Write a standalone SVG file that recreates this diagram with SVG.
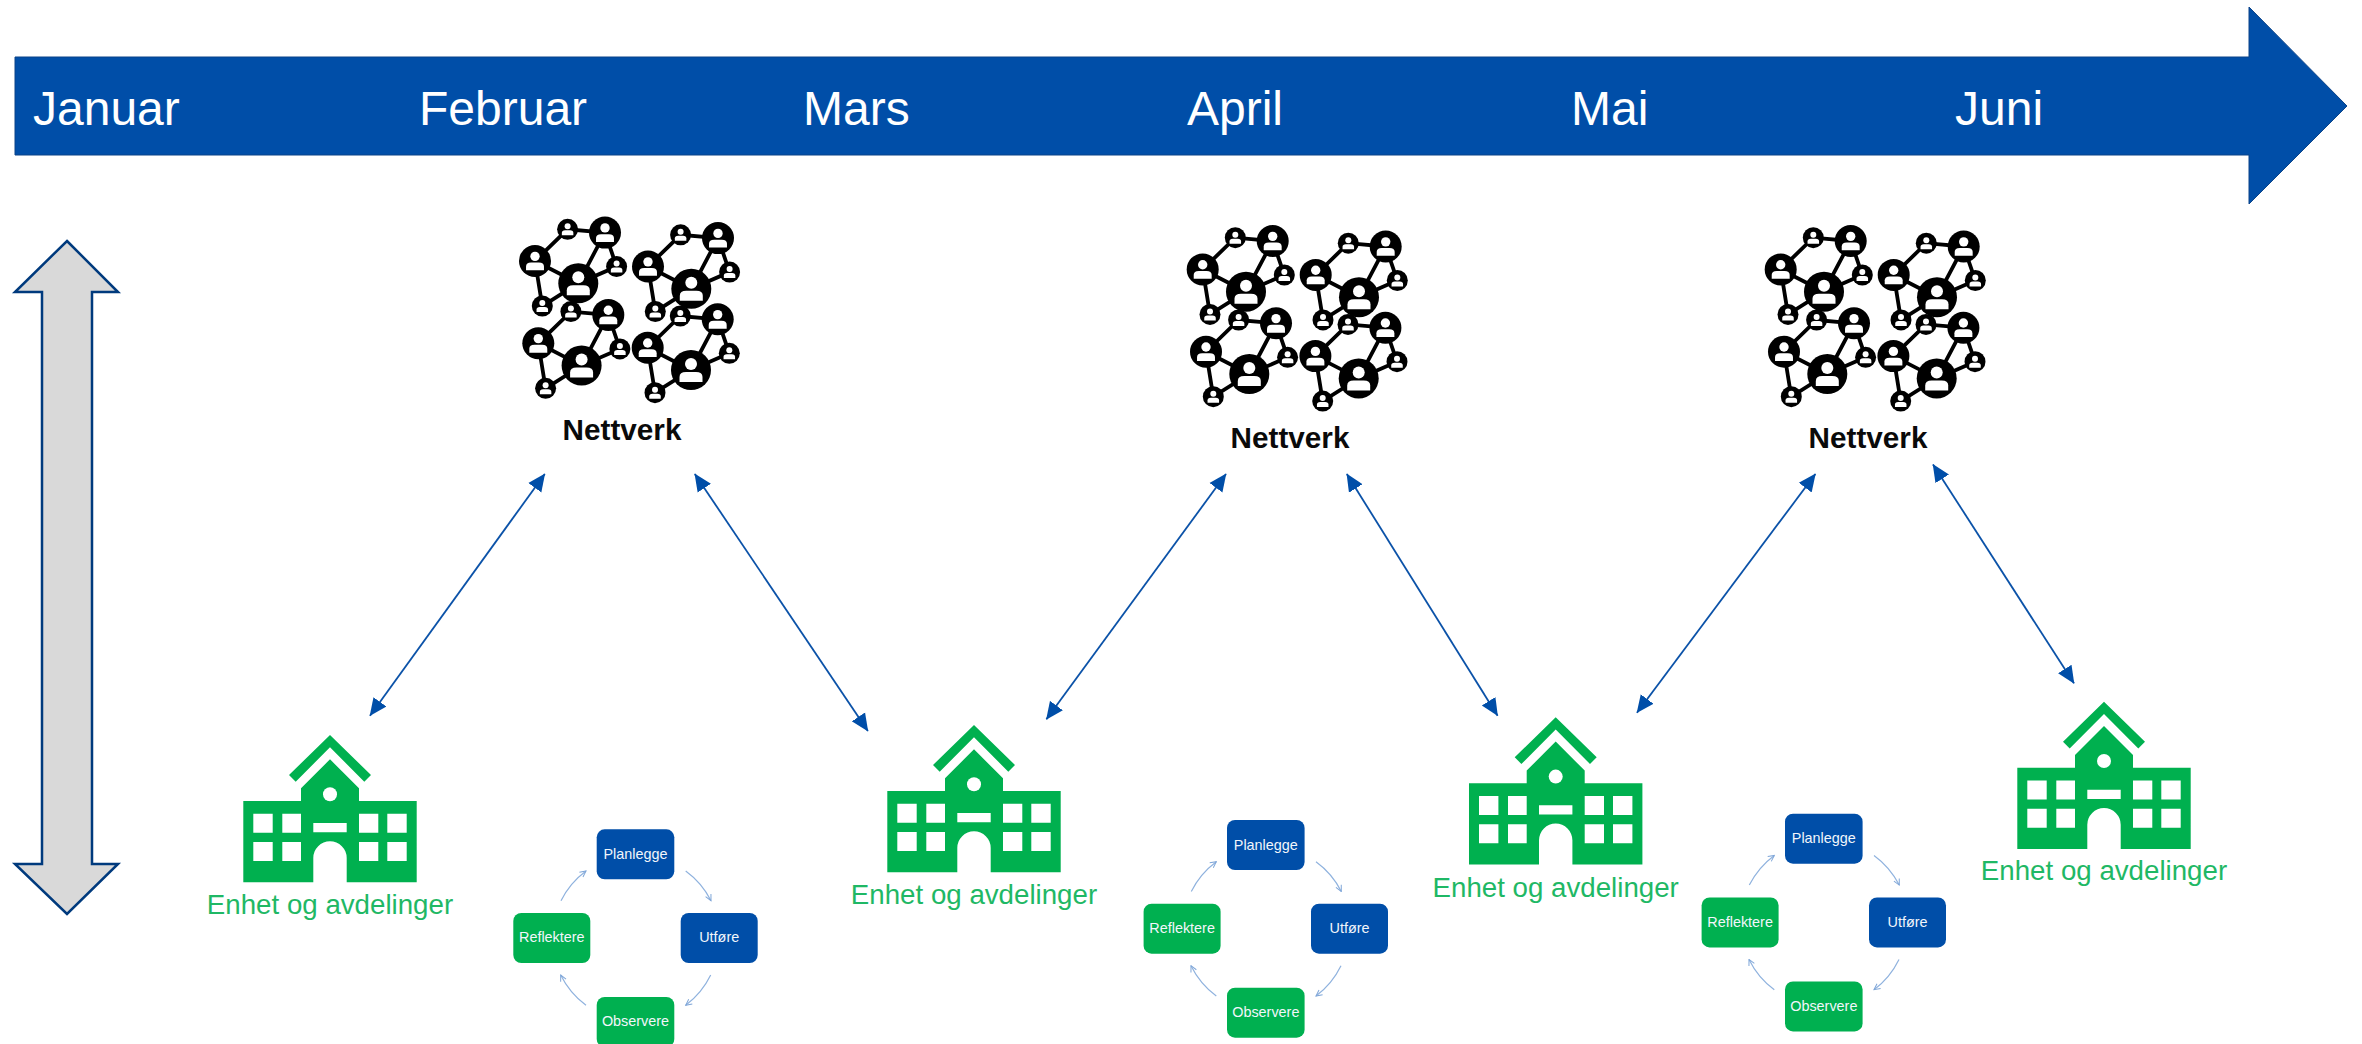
<svg xmlns="http://www.w3.org/2000/svg" width="2362" height="1044" viewBox="0 0 2362 1044">
<style>
text{font-family:"Liberation Sans",Arial,sans-serif}
.month{font-size:48px;fill:#fff}
.net-label{font-size:29.7px;font-weight:bold;fill:#0a0a0a;text-anchor:middle}
.unit-label{font-size:27.7px;fill:#1fb865;text-anchor:middle}
.step{font-size:14.4px;fill:#f2f6fb;text-anchor:middle}
.blue{fill:#004ea8}
.green{fill:#00b050}
.link{stroke:#0b52a8;stroke-width:1.8;fill:none;marker-start:url(#head);marker-end:url(#head)}
.cyc{stroke:#8fb2de;stroke-width:1.2;fill:none;marker-end:url(#small)}
.edge{stroke:#000;stroke-width:3.8;fill:none}
.soft{filter:url(#soft)}
</style>
<defs>
<filter id="soft" x="-5%" y="-5%" width="110%" height="110%"><feGaussianBlur stdDeviation="0.6"/></filter>
<marker id="head" markerUnits="userSpaceOnUse" markerWidth="18" markerHeight="18" viewBox="0 0 18 18" refX="17" refY="9" orient="auto-start-reverse"><path d="M0 1 L17.5 9 L0 17 Z" fill="#004ea8"/></marker>
<marker id="small" markerUnits="userSpaceOnUse" markerWidth="8" markerHeight="8" viewBox="0 0 8 8" refX="7" refY="4" orient="auto"><path d="M1 1 L7 4 L1 7" fill="none" stroke="#7fa6d8" stroke-width="1"/></marker>
<g id="person"><circle cx="0" cy="-6" r="6" fill="#fff"/><path d="M-11.5 12 V7 Q-11.5 2 -5 2 H5 Q11.5 2 11.5 7 V12 Z" fill="#fff"/></g>
<g id="cluster">
<path class="edge" d="M0 0 L-43.3 -22.3 L-10.7 -54 L26.7 -50.7 L0 0 M26.7 -50.7 L38.3 -16.7 L0 0 L-36 22.7 L-43.3 -22.3"/>
<circle r="20"/><use href="#person"/>
<circle cx="26.7" cy="-50.7" r="16"/><use href="#person" transform="translate(26.7 -50.7) scale(.78)"/>
<circle cx="-43.3" cy="-22.3" r="16"/><use href="#person" transform="translate(-43.3 -22.3) scale(.78)"/>
<circle cx="-10.7" cy="-54" r="10.5"/><use href="#person" transform="translate(-10.7 -54) scale(.5)"/>
<circle cx="38.3" cy="-16.7" r="10.5"/><use href="#person" transform="translate(38.3 -16.7) scale(.5)"/>
<circle cx="-36" cy="22.7" r="10.5"/><use href="#person" transform="translate(-36 22.7) scale(.5)"/>
</g>
<g id="network-icon" class="soft">
<use href="#cluster"/>
<use href="#cluster" x="113" y="5.5"/>
<use href="#cluster" x="3.3" y="82.3"/>
<use href="#cluster" x="112.7" y="86.7"/>
</g>
<g id="school" class="soft">
<path class="green" d="M0 0 L41 40 L34.3 46.7 L0 12.3 L-34.3 46.7 L-41 40 Z"/>
<path class="green" fill-rule="evenodd" d="M0 24.3 L29 53.3 V66 H86.7 V147.3 H16.7 V123 A16.7 16.7 0 0 0 -16.7 123 V147.3 H-86.7 V66 H-29 V53.3 Z
M-76.7 78.7 V97.7 H-57.3 V78.7 Z M-47.7 78.7 V97.7 H-29 V78.7 Z M29 78.7 V97.7 H48.3 V78.7 Z M57.3 78.7 V97.7 H76.7 V78.7 Z
M-76.7 107 V126 H-57.3 V107 Z M-47.7 107 V126 H-29 V107 Z M29 107 V126 H48.3 V107 Z M57.3 107 V126 H76.7 V107 Z
M-16.7 88 V97.3 H16.7 V88 Z"/>
<circle cx="0" cy="59.3" r="7" fill="#fff"/>
</g>
<g id="cycle-links">
<path class="cyc" d="M89 41.7 A84 84 0 0 1 114.3 71.4"/>
<path class="cyc" d="M114 145.7 A84 84 0 0 1 89 176"/>
<path class="cyc" d="M-10.7 176 A84 84 0 0 1 -36 145.7"/>
<path class="cyc" d="M-35.7 71.4 A84 84 0 0 1 -10.7 41.7"/>
</g>
</defs>

<g id="timeline">
<path class="blue" stroke="#0b4388" stroke-width="1" d="M15 57 H2249 V7 L2347 106 L2249 204 V155 H15 Z"/>
<text class="month" x="33" y="125">Januar</text>
<text class="month" x="419" y="125">Februar</text>
<text class="month" x="803" y="125">Mars</text>
<text class="month" x="1187" y="125">April</text>
<text class="month" x="1571" y="125">Mai</text>
<text class="month" x="1955" y="125">Juni</text>
</g>
<g id="vertical-arrow">
<path fill="#d9d9d9" stroke="#003a7d" stroke-width="2.5" d="M67 241 L118 292 H92 V864 H118 L67 914 L15 864 H42 V292 H15 Z"/>
</g>

<g id="connectors">
<line class="link" x1="370" y1="715.7" x2="544.8" y2="474"/>
<line class="link" x1="694.8" y1="474" x2="867.9" y2="731"/>
<line class="link" x1="1046.4" y1="719.3" x2="1226" y2="474"/>
<line class="link" x1="1346.8" y1="474" x2="1497.6" y2="715.7"/>
<line class="link" x1="1637" y1="712.7" x2="1815.4" y2="474"/>
<line class="link" x1="1933" y1="464.5" x2="2074" y2="683.3"/>
</g>

<g id="network-1"><use href="#network-icon" x="578.3" y="283.3"/><text class="net-label" x="622" y="440">Nettverk</text></g>
<g id="network-2"><use href="#network-icon" x="1246" y="291.7"/><text class="net-label" x="1290" y="448">Nettverk</text></g>
<g id="network-3"><use href="#network-icon" x="1824" y="291.7"/><text class="net-label" x="1868" y="448">Nettverk</text></g>

<g id="unit-1"><use href="#school" x="330" y="735"/><text class="unit-label" x="330" y="914">Enhet og avdelinger</text></g>
<g id="unit-2"><use href="#school" x="974" y="725"/><text class="unit-label" x="974" y="904">Enhet og avdelinger</text></g>
<g id="unit-3"><use href="#school" x="1555.7" y="717.3"/><text class="unit-label" x="1555.7" y="896.5">Enhet og avdelinger</text></g>
<g id="unit-4"><use href="#school" x="2104" y="701.7"/><text class="unit-label" x="2104" y="880">Enhet og avdelinger</text></g>

<g id="cycle-1" transform="translate(596.7 829.3)">
<use href="#cycle-links"/>
<rect class="blue" width="77.6" height="50" rx="8"/><text class="step" x="38.8" y="29.5">Planlegge</text>
<rect class="blue" x="84" y="83.7" width="77" height="50" rx="8"/><text class="step" x="122.5" y="113.2">Utføre</text>
<rect class="green" x="0" y="167.7" width="77.6" height="50" rx="8"/><text class="step" x="38.8" y="197.2">Observere</text>
<rect class="green" x="-83.4" y="83.7" width="77" height="50" rx="8"/><text class="step" x="-44.9" y="113.2">Reflektere</text>
</g>
<g id="cycle-2" transform="translate(1227 820)">
<use href="#cycle-links"/>
<rect class="blue" width="77.6" height="50" rx="8"/><text class="step" x="38.8" y="29.5">Planlegge</text>
<rect class="blue" x="84" y="83.7" width="77" height="50" rx="8"/><text class="step" x="122.5" y="113.2">Utføre</text>
<rect class="green" x="0" y="167.7" width="77.6" height="50" rx="8"/><text class="step" x="38.8" y="197.2">Observere</text>
<rect class="green" x="-83.4" y="83.7" width="77" height="50" rx="8"/><text class="step" x="-44.9" y="113.2">Reflektere</text>
</g>
<g id="cycle-3" transform="translate(1785 813.7)">
<use href="#cycle-links"/>
<rect class="blue" width="77.6" height="50" rx="8"/><text class="step" x="38.8" y="29.5">Planlegge</text>
<rect class="blue" x="84" y="83.7" width="77" height="50" rx="8"/><text class="step" x="122.5" y="113.2">Utføre</text>
<rect class="green" x="0" y="167.7" width="77.6" height="50" rx="8"/><text class="step" x="38.8" y="197.2">Observere</text>
<rect class="green" x="-83.4" y="83.7" width="77" height="50" rx="8"/><text class="step" x="-44.9" y="113.2">Reflektere</text>
</g>
</svg>
